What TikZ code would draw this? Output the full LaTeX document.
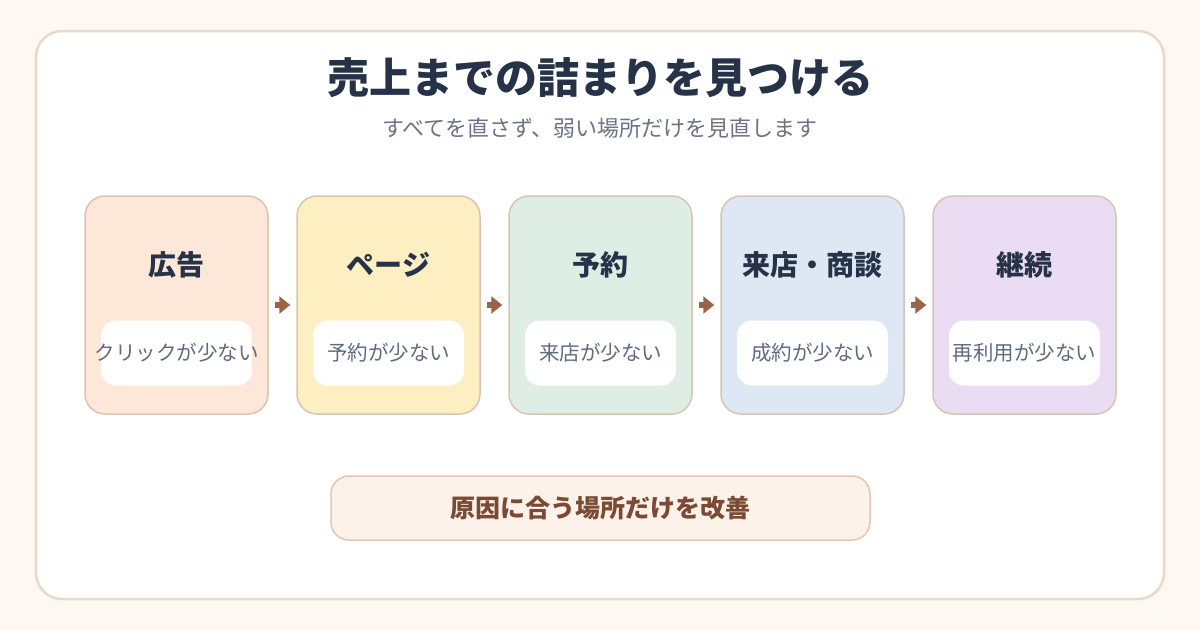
\documentclass[tikz,border=0pt]{standalone}
\usepackage{fontspec}
\usepackage{xcolor}
\usetikzlibrary{positioning, arrows.meta}
\newfontfamily\jpfont{Noto Sans CJK JP}
\definecolor{pagebg}{HTML}{FDF8F1}
\definecolor{cardline}{HTML}{E8D9C8}
\definecolor{titleink}{HTML}{263248}
\definecolor{subink}{HTML}{6B7384}
\definecolor{boxline}{HTML}{D9C4B2}
\definecolor{stepA}{HTML}{FCE7D8}
\definecolor{stepB}{HTML}{FDEFC2}
\definecolor{stepC}{HTML}{DFEEE5}
\definecolor{stepD}{HTML}{DEE7F4}
\definecolor{stepE}{HTML}{EADDF3}
\definecolor{noteink}{HTML}{5F6B7E}
\definecolor{flowink}{HTML}{9B6448}
\definecolor{fixfill}{HTML}{FDF2E9}
\definecolor{fixline}{HTML}{E3C6AC}
\definecolor{fixink}{HTML}{7B4A35}
\tikzset{
    stage/.style={
        rectangle,
        rounded corners=20pt,
        draw=boxline,
        line width=1.5pt,
        minimum width=183pt,
        minimum height=218pt,
        inner sep=0pt,
    },
    stagename/.style={
        font=\jpfont\bfseries\fontsize{28pt}{30pt}\selectfont,
        text=titleink,
    },
    leak/.style={
        rectangle,
        rounded corners=15pt,
        fill=white,
        minimum width=151pt,
        minimum height=65pt,
        inner sep=0pt,
    },
    leaktext/.style={
        inner sep=0pt,
        font=\jpfont\fontsize{20.5pt}{22pt}\selectfont,
        text=noteink,
    },
    flow/.style={
        draw=flowink,
        line width=6pt,
        shorten <=6pt,
        shorten >=6pt,
        -{Triangle[length=11pt,width=17pt]},
    },
}
\begin{document}
\begin{tikzpicture}[x=1pt,y=-1pt,node distance=27.5pt]
    \useasboundingbox (0,0) rectangle (1200,630);
    \fill[pagebg] (0,0) rectangle (1200,630);
    \draw[cardline, line width=2.5pt, fill=white, rounded corners=26pt] (36,31) rectangle (1164,599);

    \node[font=\jpfont\bfseries\fontsize{42pt}{44pt}\selectfont, text=titleink] (title) at (600,78) {売上までの詰まりを見つける};
    \node[font=\jpfont\fontsize{22pt}{24pt}\selectfont, text=subink] (sub) at (600,128) {すべてを直さず、弱い場所だけを見直します};

    \node [stage, fill=stepA] (ad) at (176.5,305) {};
    \node [stage, fill=stepB, right=of ad] (page) {};
    \node [stage, fill=stepC, right=of page] (book) {};
    \node [stage, fill=stepD, right=of book] (visit) {};
    \node [stage, fill=stepE, right=of visit] (keep) {};

    \foreach \s/\name/\note in {ad/広告/クリックが少ない, page/ページ/予約が少ない, book/予約/来店が少ない, visit/来店・商談/成約が少ない, keep/継続/再利用が少ない} {
        \node [stagename] (\s-name) at ([yshift=40pt]\s.center) {\name};
        \node [leak] (\s-note) at ([yshift=-48pt]\s.center) {};
        \node [leaktext] (\s-text) at (\s-note.center) {\note};
    }

    \draw[flow] (ad) -- (page);
    \draw[flow] (page) -- (book);
    \draw[flow] (book) -- (visit);
    \draw[flow] (visit) -- (keep);

    \node [rectangle, rounded corners=18pt, draw=fixline, line width=1.5pt, fill=fixfill,
        minimum width=539pt, minimum height=64pt,
        font=\jpfont\bfseries\fontsize{25pt}{27pt}\selectfont, text=fixink] (fix) at (600.5,508) {原因に合う場所だけを改善};
\end{tikzpicture}
\end{document}
